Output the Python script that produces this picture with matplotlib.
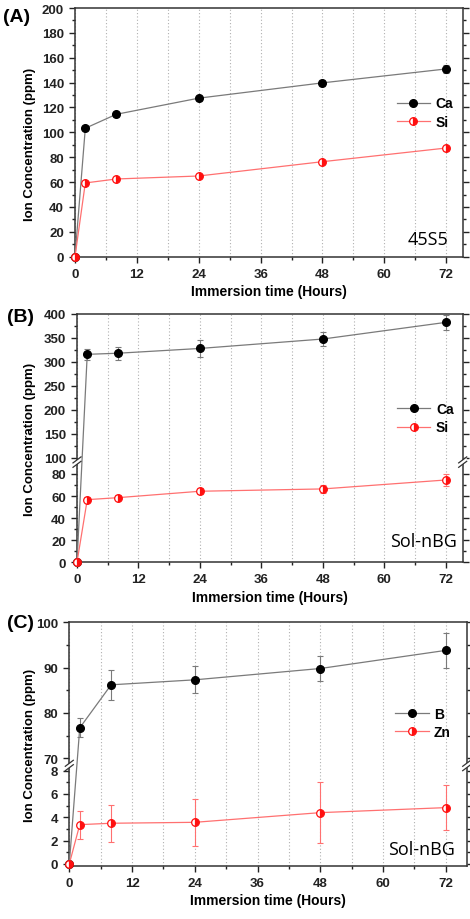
import numpy as np
import matplotlib
matplotlib.use("Agg")
import matplotlib.pyplot as plt
from matplotlib.lines import Line2D
from matplotlib.patches import Polygon

plt.rcParams["font.family"] = ["Liberation Sans", "DejaVu Sans"]

# ── data ──────────────────────────────────────────────────────────────────────
hours = [0, 2, 8, 24, 48, 72]

a_ca = [0, 103.3, 114.5, 127.5, 139.8, 151.0]
a_ca_err = [0, 1.5, 2.0, 2.0, 2.5, 3.0]
a_si = [0, 59.3, 62.5, 64.9, 76.4, 87.4]
a_si_err = [0, 1.5, 1.5, 1.5, 1.5, 2.0]

b_ca = [0, 315.7, 318.0, 328.0, 347.7, 382.5]
b_ca_err = [0, 11.5, 14.0, 18.0, 15.0, 15.0]
b_si = [0, 56.7, 58.5, 64.3, 66.4, 74.5]
b_si_err = [0, 2.5, 2.5, 2.5, 4.0, 5.0]

c_b = [0, 76.7, 86.2, 87.3, 89.8, 93.8]
c_b_err = [0, 2.1, 3.3, 3.0, 2.7, 3.9]
c_zn = [0, 3.37, 3.49, 3.57, 4.4, 4.83]
c_zn_err = [0, 1.2, 1.6, 2.0, 2.6, 1.95]

x_major = [0, 12, 24, 36, 48, 60, 72]
x_minor = [6, 18, 30, 42, 54, 66]

GRAY = "#7a7a7a"
PINK = "#ff7070"
RED = "#ff1010"
W, H = 470, 920

fig = plt.figure(figsize=(W / 100, H / 100), dpi=100)


def px_axes(l, t, r, b):
    return fig.add_axes([l / W, 1 - b / H, (r - l) / W, (b - t) / H])


def break_scale(L, U, s1, gap, s2):
    def fwd(y):
        y = np.asarray(y, float)
        return np.where(y <= L, y * s1,
                        np.where(y >= U, L * s1 + gap + (y - U) * s2,
                                 L * s1 + (y - L) / (U - L) * gap))

    def inv(v):
        v = np.asarray(v, float)
        a, b = L * s1, L * s1 + gap
        return np.where(v <= a, v / s1,
                        np.where(v >= b, U + (v - b) / s2,
                                 L + (v - a) / gap * (U - L)))
    return fwd, inv


def style(ax, xlim, ylim, ymaj, ymin, ylab_x, ylab_y=0.5):
    ax.set_xlim(*xlim)
    ax.set_ylim(*ylim)
    ax.set_xticks(x_major)
    ax.set_xticks(x_minor, minor=True)
    ax.set_yticks(ymaj)
    ax.set_yticks(ymin, minor=True)
    ax.grid(axis="x", which="both", linestyle=(0, (1, 2)), color="#b0b0b0", lw=0.8)
    ax.set_axisbelow(True)
    ax.tick_params(axis="both", which="both", direction="out", width=1.0, colors="#222",
                   labelsize=9.5, pad=4)
    ax.tick_params(axis="y", which="both", right=True, left=True)
    ax.tick_params(which="major", length=4)
    ax.tick_params(which="minor", length=2.5)
    for lbl in ax.get_xticklabels() + ax.get_yticklabels():
        lbl.set_fontweight("bold")
    for s in ax.spines.values():
        s.set_linewidth(1.1)
        s.set_color("#333")
    ax.set_xlabel("Immersion time (Hours)", fontsize=10, fontweight="bold", labelpad=3)
    ax.set_ylabel("Ion Concentration (ppm)", fontsize=9.5, fontweight="bold")
    ax.yaxis.set_label_coords(ylab_x, ylab_y)


def series(ax, y, yerr, black):
    if black:
        ax.errorbar(hours, y, yerr=yerr, fmt="none", ecolor=GRAY, elinewidth=0.8,
                    capsize=2.5, capthick=0.8, clip_on=False, zorder=3)
        ln, = ax.plot(hours, y, color=GRAY, lw=0.9, marker="o", ms=5.5,
                      mfc="black", mec="black", clip_on=False, zorder=4)
    else:
        ax.errorbar(hours, y, yerr=yerr, fmt="none", ecolor=PINK, elinewidth=0.8,
                    capsize=2.5, capthick=0.8, clip_on=False, zorder=3)
        ln, = ax.plot(hours, y, color=PINK, lw=0.9, marker="o", ms=5.5,
                      fillstyle="right", mfc=RED, mfcalt="white", mec=RED, mew=0.9,
                      clip_on=False, zorder=4)
    return ln


def legend(ax, handles, labels, x, y):
    ax.legend(handles, labels, loc="center left", bbox_to_anchor=(x, y), frameon=False,
              borderpad=0, borderaxespad=0, handlelength=2.4, handletextpad=0.4,
              labelspacing=0.3, prop={"weight": "bold", "size": 10})


def break_marks(ax, yfrac, axw, axh):
    dx, dy, sep = 4 / axw, 3 / axh, 2.2 / axh
    for xs in (0, 1):
        poly = Polygon([(xs - dx, yfrac - dy - sep), (xs + dx, yfrac + dy - sep),
                        (xs + dx, yfrac + dy + sep), (xs - dx, yfrac - dy + sep)],
                       closed=True, transform=ax.transAxes, facecolor="white",
                       edgecolor="none", clip_on=False, zorder=10)
        ax.add_patch(poly)
        for off in (-sep, sep):
            ax.add_line(Line2D([xs - dx, xs + dx], [yfrac - dy + off, yfrac + dy + off],
                               transform=ax.transAxes, color="#333", lw=0.9,
                               clip_on=False, zorder=11))


# ── (A) ───────────────────────────────────────────────────────────────────────
axA = px_axes(75, 9, 462.7, 257.7)
style(axA, (0, 75.2), (0, 200), range(0, 201, 20), range(10, 200, 20), -0.10, 0.457)
hA1 = series(axA, a_ca, a_ca_err, True)
hA2 = series(axA, a_si, a_si_err, False)
legend(axA, [hA1, hA2], ["Ca", "Si"], 0.83, 0.58)
axA.text(0.963, 0.051, "45S5", transform=axA.transAxes, ha="right", va="baseline",
         fontsize=13, family="Open Sans")
fig.text(3 / W, 1 - 21.7 / H, "(A)", fontsize=14, fontweight="bold", va="baseline")

# ── (B) ───────────────────────────────────────────────────────────────────────
axB = px_axes(77, 315, 462.7, 563.3)
fB = break_scale(90, 92, 1.104, 1.5, 0.478)
axB.set_yscale("function", functions=fB)
style(axB, (0, 75.3), (0, 400), [0, 20, 40, 60, 80, 100, 150, 200, 250, 300, 350, 400],
      [10, 30, 50, 70, 125, 175, 225, 275, 325, 375], -0.106)
hB1 = series(axB, b_ca, b_ca_err, True)
hB2 = series(axB, b_si, b_si_err, False)
legend(axB, [hB1, hB2], ["Ca", "Si"], 0.83, 0.58)
axB.text(0.985, 0.067, "Sol-nBG", transform=axB.transAxes, ha="right", va="baseline",
         fontsize=13, family="Open Sans")
fig.text(7 / W, 1 - 321.7 / H, "(B)", fontsize=14, fontweight="bold", va="baseline")
yb = float(fB[0](91) / fB[0](400))
break_marks(axB, yb, 385.7, 248.3)

# ── (C) ───────────────────────────────────────────────────────────────────────
axC = px_axes(69.3, 623.3, 466.7, 866.7)
fC = break_scale(8.4, 68.5, 11.67, 1.0, 4.533)
axC.set_yscale("function", functions=fC)
style(axC, (0, 76), (-0.15, 100), [0, 2, 4, 6, 8, 70, 80, 90, 100],
      [1, 3, 5, 7, 75, 85, 95], -0.084)
hC1 = series(axC, c_b, c_b_err, True)
hC2 = series(axC, c_zn, c_zn_err, False)
legend(axC, [hC1, hC2], ["B", "Zn"], 0.82, 0.5875)
axC.text(0.9706, 0.048, "Sol-nBG", transform=axC.transAxes, ha="right", va="baseline",
         fontsize=13, family="Open Sans")
fig.text(7 / W, 1 - 628.3 / H, "(C)", fontsize=14, fontweight="bold", va="baseline")
lo = fC[0](-0.15)
yc = float((fC[0]((8.4 + 68.5) / 2) - lo) / (fC[0](100) - lo))
break_marks(axC, yc, 397.4, 243.4)

fig.savefig("out.png", dpi=100)
